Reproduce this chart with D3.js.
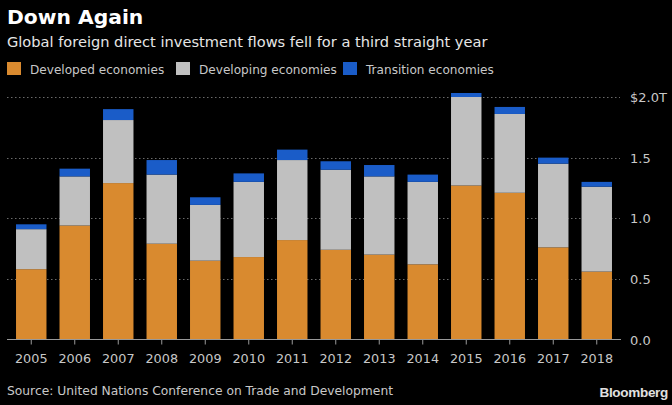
<!DOCTYPE html>
<html><head><meta charset="utf-8">
<script src="https://cdn.jsdelivr.net/npm/d3@7"></script>
<style>html,body{margin:0;padding:0;background:#000;}svg{display:block;}</style>
</head><body>
<script>
const years = ["2005","2006","2007","2008","2009","2010","2011","2012","2013","2014","2015","2016","2017","2018"];
const developed = [0.58,0.94,1.29,0.79,0.65,0.68,0.82,0.74,0.70,0.62,1.27,1.21,0.76,0.56];
const developing = [0.33,0.405,0.52,0.57,0.46,0.62,0.66,0.66,0.645,0.68,0.73,0.65,0.69,0.70];
const transition = [0.04,0.064,0.09,0.12,0.063,0.07,0.086,0.07,0.094,0.06,0.033,0.058,0.05,0.04];
const seriesNames = ["Developed economies","Developing economies","Transition economies"];
const seriesColors = ["#d98a2f","#c0c0c0","#1a5cc8"];
const yTicks = [0,0.5,1.0,1.5,2.0];
const yTickLabels = ["0.0","0.5","1.0","1.5","$2.0T"];

const W=672,H=405;
const svg=d3.select("body").append("svg").attr("width",W).attr("height",H);
svg.append("rect").attr("width",W).attr("height",H).attr("fill","#000");
const font="'DejaVu Sans', sans-serif";

svg.append("text").attr("x",7).attr("y",24).attr("fill","#fff").attr("font-family",font)
  .attr("font-weight","bold").attr("font-size",20.3).text("Down Again");
svg.append("text").attr("x",7).attr("y",47).attr("fill","#e6e6e6").attr("font-family",font)
  .attr("font-size",14.6).text("Global foreign direct investment flows fell for a third straight year");

const legX=[7,176,343];
seriesNames.forEach((n,i)=>{
  const g=svg.append("g").attr("transform",`translate(${legX[i]},62)`);
  g.append("rect").attr("x",0).attr("y",0).attr("width",14).attr("height",13).attr("fill",seriesColors[i]);
  g.append("text").attr("x",23).attr("y",11.5).attr("fill","#c8c8c8").attr("font-family",font)
   .attr("font-size",12.1).text(n);
});

const x=d3.scaleBand().domain(years).range([9.5,618.5]).paddingInner(0.3).paddingOuter(0.15);
const y=d3.scaleLinear().domain([0,2]).range([339.5,97]);

// gridlines
svg.append("g").selectAll("line").data(yTicks.filter(d=>d>0)).join("line")
  .attr("x1",7).attr("x2",620).attr("y1",d=>Math.round(y(d))+0.5).attr("y2",d=>Math.round(y(d))+0.5)
  .attr("stroke","#6a6a6a").attr("stroke-width",1).attr("stroke-dasharray","1.5,2.5");

const stackData=years.map((yr,i)=>({year:yr,d0:developed[i],d1:developing[i],d2:transition[i]}));
const stack=d3.stack().keys(["d0","d1","d2"])(stackData);
svg.append("g").selectAll("g").data(stack).join("g").attr("fill",(d,i)=>seriesColors[i])
  .selectAll("rect").data(d=>d).join("rect")
  .attr("x",d=>x(d.data.year)).attr("width",x.bandwidth())
  .attr("y",d=>y(d[1])).attr("height",d=>y(d[0])-y(d[1]));

// x axis
const xAxis=svg.append("g").attr("transform","translate(0,339.5)");
xAxis.append("line").attr("x1",7).attr("x2",621).attr("stroke","#999").attr("stroke-width",1.2);
xAxis.selectAll("line.t").data(years).join("line").attr("class","t")
  .attr("x1",d=>x(d)+x.bandwidth()/2).attr("x2",d=>x(d)+x.bandwidth()/2)
  .attr("y1",0).attr("y2",5).attr("stroke","#999");
xAxis.selectAll("text").data(years).join("text")
  .attr("x",d=>x(d)+x.bandwidth()/2).attr("y",23).attr("text-anchor","middle")
  .attr("fill","#c8c8c8").attr("font-family",font).attr("font-size",12.8).text(d=>d);

// y labels
svg.append("g").selectAll("text").data(yTicks).join("text")
  .attr("x",630).attr("y",d=>y(d)+5).attr("fill","#c8c8c8").attr("font-family",font)
  .attr("font-size",13).text((d,i)=>yTickLabels[i]);

svg.append("text").attr("x",7).attr("y",395).attr("fill","#c8c8c8").attr("font-family",font)
  .attr("font-size",12.3).text("Source: United Nations Conference on Trade and Development");
svg.append("text").attr("x",668).attr("y",397).attr("text-anchor","end").attr("fill","#e0e0e0")
  .attr("font-family","'Liberation Sans', Arial, sans-serif").attr("font-weight","bold").attr("font-size",13.5)
  .attr("letter-spacing","-0.3").text("Bloomberg");
</script>
</body></html>
